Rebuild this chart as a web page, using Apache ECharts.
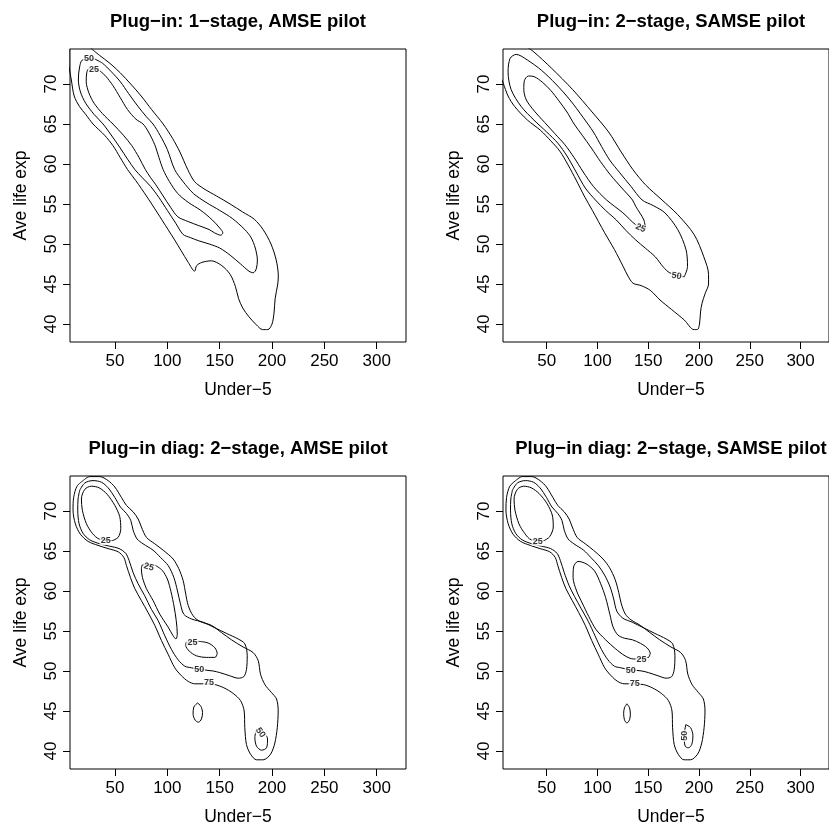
<!DOCTYPE html>
<html><head><meta charset="utf-8">
<script src="https://cdn.jsdelivr.net/npm/echarts@6/dist/echarts.min.js"></script>
<style>html,body{margin:0;padding:0;background:#fff}#c{width:829px;height:825px}</style>
</head><body><div id="c"></div>
<script>
const titles = ['Plug\u2212in: 1\u2212stage, AMSE pilot','Plug\u2212in: 2\u2212stage, SAMSE pilot','Plug\u2212in diag: 2\u2212stage, AMSE pilot','Plug\u2212in diag: 2\u2212stage, SAMSE pilot'];
const xName = 'Under\u22125';
const yName = 'Ave life exp';
const xTicks = [50,100,150,200,250,300];
const yTicks = [40,45,50,55,60,65,70];
const xRange = [7,328];
const yRange = [37.75,74.375];

// Panel 1 contours
const p1_75 = [[27.5,74.4],[35,73.6],[45,72.6],[55,71.4],[65,70.0],[75,68.5],[85,66.8],[96,65.0],[105,63.2],[112,61.5],[119.5,59.3],[126,57.8],[135,56.9],[147,56.0],[160,55.0],[172,54.0],[183,53.1],[191.5,51.8],[199,50.0],[204,48.0],[206,46.0],[205.5,45.0],[203,43.2],[202,41.5],[200,40.0],[196,39.3],[191,39.3],[185,39.9],[178,40.9],[172,42.0],[168,43.2],[165,44.7],[160,46.2],[152,47.3],[142,47.9],[133,47.7],[128,47.3],[126,46.6],[120,47.7],[113,49.2],[107,50.5],[100.7,51.8],[90,54.0],[80,56.0],[70,57.9],[62,59.3],[55,60.8],[48,62.3],[40,63.6],[29,65.0],[22,66.2],[16,67.2],[11,68.5],[8.3,70.5],[6,72.5],[6,74.5],[10,75.6],[20,76]];
const p1_50 = [[31,73.1],[38,72.6],[46,71.6],[55,70.3],[63,68.8],[72,67.2],[80,65.9],[86.3,65.0],[93,63.6],[100,61.8],[107,59.3],[115,57.8],[125,56.3],[137,55.2],[150,54.2],[162,53.2],[174,51.8],[180,50.8],[184,49.5],[186,48.0],[185,46.9],[182,46.4],[178,46.6],[170,47.5],[160,48.6],[150,49.5],[140,50.0],[130,50.4],[122,50.8],[115,51.2],[108,52.6],[100,54.2],[92,55.8],[84,57.2],[76,58.3],[69,59.3],[62,60.6],[55,62.0],[47,63.5],[38.6,65.0],[30,66.2],[22,67.6],[17,69.0],[15,70.5],[16,72.0],[19,73.0]];
const p1_25 = [[35,71.7],[41,71.0],[48,69.8],[55,68.3],[62,66.8],[70,65.6],[76.8,65.0],[82,64.0],[88,62.4],[92,60.8],[96,59.3],[102,57.8],[110,56.3],[120,55.2],[132,54.2],[143,53.0],[150,52.0],[153,51.4],[151,51.1],[145,51.4],[140,51.8],[130,52.3],[120,52.8],[110,53.4],[103,54.6],[96,56.0],[89,57.4],[84,58.3],[79,59.3],[73,60.8],[66,62.3],[58,63.6],[48,65.0],[38,66.3],[30,67.6],[25,68.9],[22.5,70.3],[23,71.4],[25,71.9]];
const p1_labels = [[25.2,73.2,'50',0],[30.0,71.8,'25',0]];

// Panel 2 contours
const p2_75 = [[29.7,74.7],[37.4,74.0],[54.6,72.0],[75.6,69.3],[94.7,66.5],[111.0,64.0],[123.4,61.5],[134.9,59.3],[147.3,57.4],[163.6,55.5],[178.8,53.7],[195.1,51.2],[204.7,48.4],[209.4,46.2],[209.4,45.0],[206,43.8],[203,42.6],[201.5,41.5],[200.5,40.0],[198.5,39.3],[195,39.3],[185.5,40.5],[173.1,41.8],[161.6,43.0],[152.1,44.2],[143,44.8],[135,45.1],[130,46.0],[125.3,47.2],[116.7,49.3],[107.1,51.4],[95,54.2],[87,56.0],[79,58.0],[71,59.9],[63,61.6],[54,62.9],[44,64.2],[31,65.5],[18.4,67.2],[12,68.5],[7.2,70.1],[4,71.2],[-0.4,74.3],[13.5,76.2]];
const p2_50 = [[185.5,45.9],[188.7,47.2],[187.2,49.3],[179.1,51.8],[166.4,53.9],[155,54.8],[144,55.5],[133,57.2],[122,58.9],[112,60.5],[104,62.2],[96,64.0],[86,65.8],[73,68.0],[59,70.0],[45,71.7],[31,73.0],[20,73.7],[14,73.2],[12,71.5],[15,69.3],[24.8,67.2],[37.4,65.5],[50,64.0],[61,62.6],[70,61.0],[79,59.0],[88,57.0],[98,55.5],[108,54.2],[118.6,53.0],[128,51.7],[137.7,50.5],[147,49.5],[156.9,48.4],[165,47.1],[171.2,46.4]];
const p2_25 = [[147.3,51.8],[145.7,53.0],[137.7,54.7],[134.5,55.5],[124,57.0],[113,58.6],[103,60.3],[94,62.0],[85,63.6],[77,65.0],[70,66.5],[62,67.9],[54,69.2],[46,70.2],[38,70.9],[32,71.0],[28,70.4],[27.5,69.3],[30,68.0],[38,66.6],[48,65.2],[58,63.8],[68,62.4],[77,60.8],[86,59.0],[96,57.2],[109,55.5],[125,53.9],[137.7,52.4]];
const p2_labels = [[142.5,52.0,'25',-25],[178,46.0,'50',-8]];

// Panel 3 contours
const p3_75 = [[19.5,73.8],[25.8,74.3],[35.4,74.3],[43.4,73.8],[49.8,73.0],[56.1,71.7],[60.9,70.7],[67.3,69.9],[72.1,69.0],[75.2,68.0],[80.0,66.7],[88.0,65.9],[96.0,65.1],[105.5,64.0],[110.9,62.8],[115.1,61.3],[117.6,59.6],[119.9,58.2],[124.6,56.9],[131.0,56.2],[142.2,55.7],[151.7,54.8],[161.3,53.9],[172.4,53.0],[182.0,52.3],[186.8,51.3],[189.0,49.6],[193.2,48.3],[199.5,47.3],[204.3,46.5],[205.9,45.0],[205.0,42.9],[202.7,41.0],[198.6,39.6],[191.6,38.9],[185.2,38.9],[179.5,39.6],[175.6,40.8],[174.0,42.9],[173.4,45.0],[169.9,46.3],[162.9,47.2],[154.0,47.9],[145.4,48.3],[134.2,48.4],[126.2,48.4],[119.9,48.7],[113.5,49.4],[107.1,50.4],[100.7,52.1],[94.4,53.8],[88.0,55.7],[81.6,57.3],[75.2,58.8],[68.9,60.3],[64.7,61.7],[60.9,63.2],[58.4,64.2],[53.0,64.9],[43.4,65.3],[33.8,65.7],[24.3,66.2],[16.9,67.1],[12.1,68.4],[9.9,70.1],[10.5,71.7],[13.7,73.1]];
const p3_50 = [[16.3,72.6],[21.1,73.5],[29.0,73.8],[37.0,73.6],[43.4,72.9],[49.8,71.7],[55.2,70.5],[60.9,69.7],[65.1,68.8],[67.3,67.6],[71.1,66.5],[76.8,65.9],[86.4,65.1],[93.4,64.2],[100.7,63.2],[106.2,61.7],[109.7,60.0],[112.5,58.4],[115.7,57.1],[123.1,56.5],[134.2,56.1],[145.4,55.4],[156.5,54.7],[167.7,54.0],[174.0,53.4],[176.3,51.9],[175.6,50.2],[173.1,49.3],[167.7,49.1],[159.7,49.4],[150.1,49.8],[143.8,50.0],[130.4,50.2],[123.1,50.4],[116.7,50.6],[110.3,51.4],[103.9,52.7],[97.6,54.4],[91.2,56.3],[84.8,57.7],[78.4,59.4],[72.1,60.9],[67.3,62.3],[63.5,63.8],[60.3,64.7],[53.9,65.3],[45.0,65.6],[35.4,65.9],[25.8,66.4],[19.5,67.2],[15.7,68.4],[14.4,70.1],[14.7,71.5]];
const p3_25a = [[47.5,66.3],[53.0,66.7],[55.5,67.8],[54.5,69.3],[49.8,70.7],[42.4,72.1],[34.8,72.9],[27.4,73.1],[21.1,72.7],[17.9,71.5],[18.8,70.1],[22.7,68.4],[28.4,67.2],[34.8,66.5]];
const p3_25b = [[88.6,63.2],[95.0,62.6],[100.0,61.5],[103.5,59.9],[106.5,58.0],[108.5,56.3],[109.5,54.6],[108.2,54.0],[105.5,54.4],[100.7,55.5],[92.8,57.1],[86.4,58.8],[80.0,60.3],[76.2,61.7],[75.2,62.8],[76.8,63.3]];
const p3_25c = [[130.4,53.7],[139.0,53.5],[145.4,52.9],[147.6,52.2],[145.4,51.7],[137.4,51.7],[127.8,51.9],[120.8,52.5],[117.6,53.2],[118.3,53.6]];
const p3_75e = [[128.8,46.0],[132.0,45.6],[133.6,44.8],[132.6,44.0],[129.7,43.6],[126.6,43.85],[124.6,44.6],[125.3,45.5]];
const p3_50b = [[185.2,42.7],[183.6,41.7],[185.2,40.6],[190.0,40.1],[194.8,40.4],[195.7,41.5],[193.8,42.1],[190,42.6]];
const p3_labels = [[41.1,66.3,'25',0],[82.3,63.0,'25',-15],[124.0,53.6,'25',0],[130.4,50.2,'50',0],[139.9,48.6,'75',0],[189.0,42.3,'50',-55]];

// Panel 4 contours
const p4_75 = [[19.5,73.8],[25.8,74.3],[35.4,74.3],[43.4,73.8],[49.8,73.0],[56.1,71.7],[60.9,70.7],[67.3,69.9],[72.1,69.0],[75.2,68.0],[80.0,66.7],[88.0,65.9],[96.0,65.1],[105.5,64.0],[112,62.9],[117.5,61.4],[121,59.8],[123.5,58.4],[127.5,57.1],[133,56.4],[142.2,55.7],[151.7,54.8],[161.3,53.9],[172.4,53.0],[182.0,52.3],[186.8,51.3],[189.0,49.6],[193.2,48.3],[199.5,47.3],[204.3,46.5],[205.9,45.0],[205.0,42.9],[202.7,41.0],[198.6,39.6],[191.6,38.9],[185.2,38.9],[179.5,39.6],[175.6,40.8],[174.0,42.9],[173.4,45.0],[169.9,46.3],[162.9,47.2],[154.0,47.9],[145.4,48.3],[134.2,48.4],[126.2,48.4],[119.9,48.7],[113.5,49.4],[107.1,50.4],[100.7,52.1],[94.4,53.8],[88.0,55.7],[81.6,57.3],[75.2,58.8],[68.9,60.3],[64.7,61.7],[60.9,63.2],[58.4,64.2],[53.0,64.9],[43.4,65.3],[33.8,65.7],[24.3,66.2],[16.9,67.1],[12.1,68.4],[9.9,70.1],[10.5,71.7],[13.7,73.1]];
const p4_50 = [[16.3,72.6],[21.1,73.5],[29.0,73.8],[37.0,73.6],[43.4,72.9],[49.8,71.7],[55.2,70.5],[60.9,69.7],[65.1,68.8],[67.3,67.6],[71.1,66.5],[76.8,65.9],[86.4,65.1],[93.4,64.2],[100.7,63.2],[107,62.0],[112.5,60.5],[116,59.0],[119,57.5],[125,56.6],[134.2,56.1],[145.4,55.4],[156.5,54.7],[167.7,54.0],[174.0,53.4],[176.3,51.9],[175.6,50.2],[173.1,49.3],[167.7,49.1],[159.7,49.4],[150.1,49.8],[143.8,50.0],[130.4,50.2],[123.1,50.4],[116.7,50.6],[110.3,51.4],[103.9,52.7],[97.6,54.4],[91,56.2],[84,57.8],[77.5,59.3],[72,60.7],[67.3,62.3],[63.5,63.8],[60.3,64.7],[53.9,65.3],[45.0,65.6],[35.4,65.9],[25.8,66.4],[19.5,67.2],[15.7,68.4],[14.4,70.1],[14.7,71.5]];
const p4_25a = [[47.5,66.3],[53.0,66.8],[56.5,68.0],[55.5,69.5],[50.5,70.9],[42.4,72.2],[34.8,72.9],[27.4,73.1],[21.1,72.7],[17.9,71.5],[18.8,70.1],[22.7,68.4],[28.4,67.2],[34.8,66.4]];
const p4_25b = [[150.4,51.7],[152.0,52.2],[148.8,52.9],[142.4,53.45],[134.5,53.9],[126.5,54.1],[120.1,54.5],[115.4,55.5],[112.2,57.1],[108.0,59.2],[103.2,60.9],[97.2,62.5],[88.9,63.4],[80.9,63.7],[76.5,63.0],[76.0,61.7],[79.5,60.0],[85,58.5],[91.5,56.8],[98.5,55.2],[108.0,53.9],[117.6,52.8],[127.1,51.9],[135.4,51.5]];
const p4_75e = [[129.0,45.9],[131.6,45.4],[132.4,44.6],[131.6,43.9],[129.0,43.5],[126.6,43.9],[125.8,44.7],[126.6,45.4]];
const p4_50b = [[187.0,43.3],[191.8,42.9],[194.0,41.9],[192.8,40.8],[189.6,40.4],[186.4,40.6],[185.4,41.9]];
const p4_labels = [[41.1,66.2,'25',0],[143.4,51.4,'25',0],[132.9,50.0,'50',0],[136.7,48.4,'75',0],[185.6,41.9,'50',90]];

const panels = [
  {contours:[p1_75,p1_50,p1_25], labels:p1_labels},
  {contours:[p2_75,p2_50,p2_25], labels:p2_labels},
  {contours:[p3_75,p3_50,p3_25a,p3_25b,p3_25c,p3_75e,p3_50b], labels:p3_labels},
  {contours:[p4_75,p4_50,p4_25a,p4_25b,p4_75e,p4_50b], labels:p4_labels}
];

const FONT = 'Liberation Sans, Arial, Helvetica, sans-serif';
const boxes = [{left:70,top:49},{left:503,top:49},{left:70,top:476},{left:503,top:476}];
const W = 336, H = 293;

const grid = [], xAxis = [], yAxis = [], series = [], graphic = [];
boxes.forEach((b,i)=>{
  grid.push({left:b.left, top:b.top, width:W, height:H, show:true, borderColor:'#000', borderWidth:1, backgroundColor:'transparent', containLabel:false});
  xAxis.push({type:'value', gridIndex:i, min:xRange[0], max:xRange[1],
    axisLine:{show:false},
    axisTick:{show:true, length:7, inside:false, customValues:xTicks, lineStyle:{color:'#000'}},
    axisLabel:{show:true, customValues:xTicks, fontSize:17, color:'#000', margin:11, fontFamily:FONT},
    splitLine:{show:false}});
  yAxis.push({type:'value', gridIndex:i, min:yRange[0], max:yRange[1],
    axisLine:{show:false},
    axisTick:{show:true, length:7, inside:false, customValues:yTicks, lineStyle:{color:'#000'}},
    axisLabel:{show:true, customValues:yTicks, fontSize:17, color:'#000', margin:10, rotate:90, fontFamily:FONT},
    splitLine:{show:false}});
  panels[i].contours.forEach(c=>{
    series.push({type:'line', xAxisIndex:i, yAxisIndex:i, data:c.concat([c[0]]), showSymbol:false, symbol:'none',
      smooth:0.3, clip:true, lineStyle:{color:'#000', width:1}, silent:true, animation:false, z:2});
  });
  series.push({type:'scatter', xAxisIndex:i, yAxisIndex:i, symbolSize:0.1, silent:true, animation:false, z:5,
    data:panels[i].labels.map(l=>({value:[l[0],l[1]], name:l[2], label:{rotate:l[3]}})),
    label:{show:true, position:'inside', formatter:'{b}', fontSize:9, fontWeight:'bold', color:'#000', backgroundColor:'#fff', padding:[0,1], fontFamily:FONT}});
  const cx = b.left + W/2;
  graphic.push({type:'text', x:cx, y:b.top-27.5, style:{text:titles[i], textAlign:'center', textVerticalAlign:'middle', font:'bold 18.5px '+FONT, fill:'#000'}});
  graphic.push({type:'text', x:cx, y:b.top+H+48, style:{text:xName, textAlign:'center', textVerticalAlign:'middle', font:'17.5px '+FONT, fill:'#000'}});
  graphic.push({type:'text', x:b.left-49, y:b.top+H/2, rotation:Math.PI/2, style:{text:yName, textAlign:'center', textVerticalAlign:'middle', font:'17.5px '+FONT, fill:'#000'}});
});

const chart = echarts.init(document.getElementById('c'), null, {renderer:'canvas'});
chart.setOption({backgroundColor:'#fff', animation:false, grid, xAxis, yAxis, series, graphic});
</script></body></html>
